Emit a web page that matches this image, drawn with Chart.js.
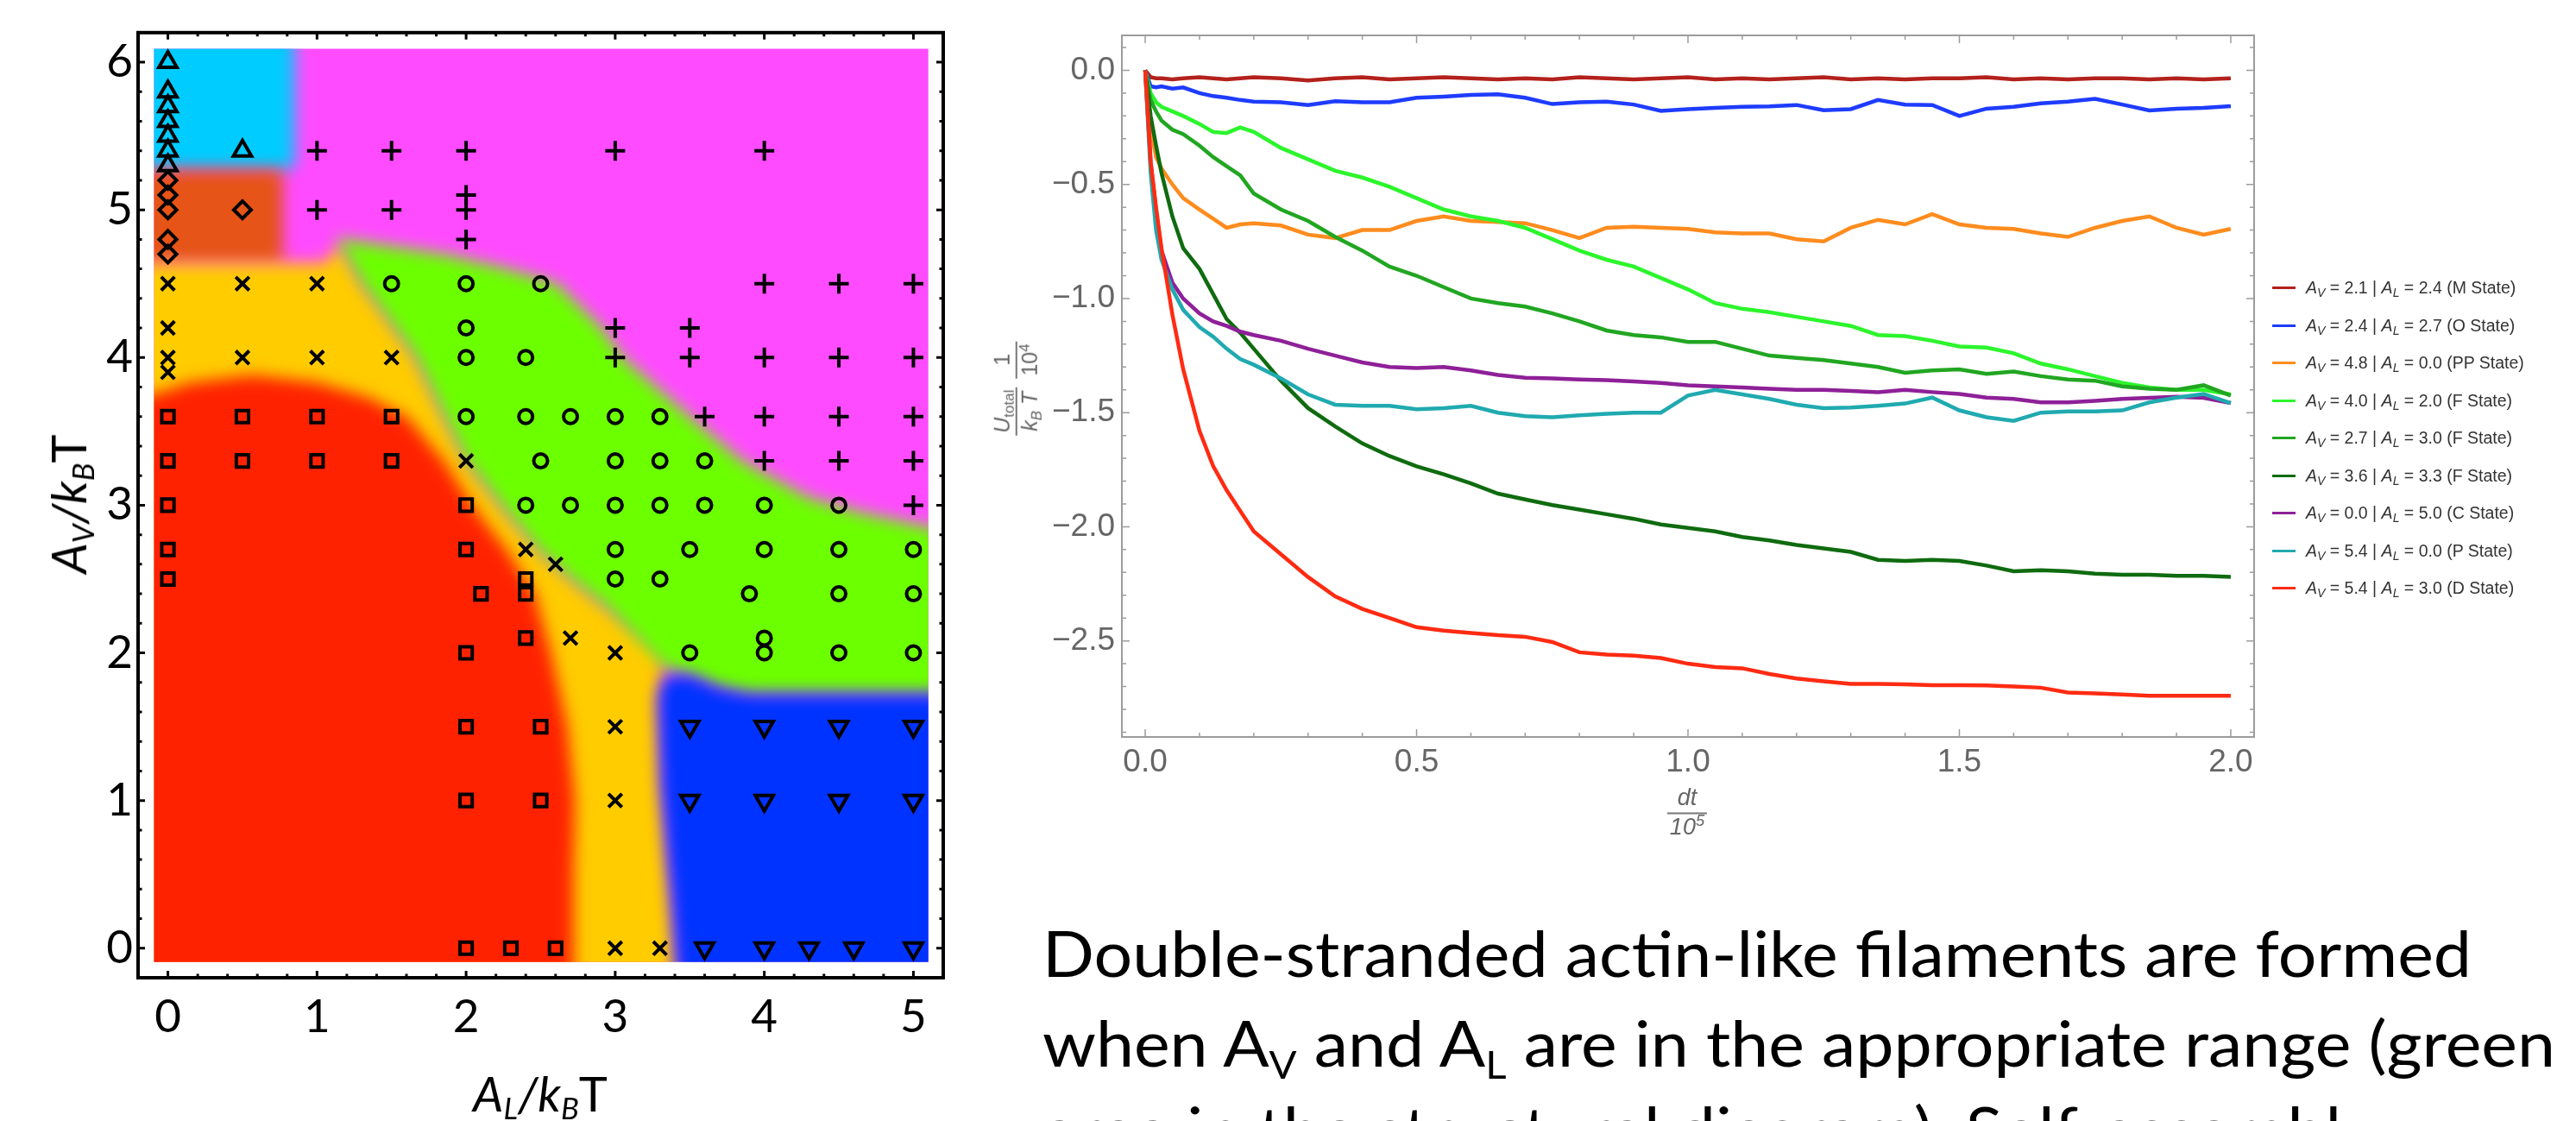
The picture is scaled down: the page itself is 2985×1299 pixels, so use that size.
<!DOCTYPE html>
<html>
<head>
<meta charset="utf-8">
<title>Phase diagram and energy traces</title>
<script src="https://cdn.jsdelivr.net/npm/chart.js@4.4.1/dist/chart.umd.min.js"></script>
<style>
  html, body { margin: 0; padding: 0; background: #fff; }
  body { position: relative; width: 2985px; height: 1299px; overflow: hidden; }
  canvas { position: absolute; top: 0; }
  #phase { left: 0; }
  #energy { left: 1150px; }
  .t { position: absolute; white-space: nowrap; }
  .ax { font-family: Lato, "Open Sans", sans-serif; font-size: 56px; line-height: 1; color: #000; }
  .ax sub { font-size: 0.62em; vertical-align: -0.25em; line-height: 0; }
  .mma { font-family: "Liberation Sans", Arial, sans-serif; line-height: 1.15; color: #666; }
  .mma sub { font-size: 0.68em; vertical-align: -0.3em; line-height: 0; }
  .mma sup { font-size: 0.68em; vertical-align: 0.55em; line-height: 0; }
  .frac { display: inline-block; text-align: center; vertical-align: middle; margin: 0 5px; }
  .frac > span { display: block; padding: 0 3px; }
  .frac > span.num { border-bottom: 2.5px solid #777; padding-bottom: 1px; }
  #legend { position: absolute; left: 2633px; top: 312px; font-family: "Liberation Sans", Arial, sans-serif; font-size: 19.5px; color: #333; }
  #legend .row { height: 43.5px; display: flex; align-items: center; white-space: nowrap; }
  #legend .sw { display: inline-block; width: 27px; height: 3px; margin-right: 12px; }
  #legend sub { font-size: 0.72em; vertical-align: -0.3em; line-height: 0; }
  .pl { position: absolute; left: 1208px; font-family: Lato, "Open Sans", sans-serif; font-size: 74px; line-height: 1; color: #000; white-space: nowrap; transform-origin: 0 0; }
  .pl sub { font-size: 0.6em; vertical-align: -0.32em; line-height: 0; }
</style>
</head>
<body>
<canvas id="phase" width="1150" height="1299"></canvas>
<canvas id="energy" width="1835" height="1299"></canvas>

<div class="t ax" id="phaseYTitle" style="left:79px; top:584px; transform: translate(-50%, -50%) rotate(-90deg);"><i>A</i><sub><i>V</i></sub><i>/k</i><sub><i>B</i></sub>T</div>
<div class="t ax" id="phaseXTitle" style="left:626px; top:1267px; transform: translate(-50%, -50%);"><i>A</i><sub><i>L</i></sub><i>/k</i><sub><i>B</i></sub>T</div>

<div class="t mma" id="energyYTitle" style="left:1177px; top:450px; font-size:25px; transform: translate(-50%, -50%) rotate(-90deg);">
  <span class="frac"><span class="num"><i>U</i><sub>total</sub></span><span><i>k</i><sub><i>B</i></sub> <i>T</i></span></span><span class="frac"><span class="num">1</span><span>10<sup>4</sup></span></span>
</div>
<div class="t mma" id="energyXTitle" style="left:1955px; top:942px; font-size:27px; transform: translate(-50%, -50%);">
  <span class="frac"><span class="num"><i>dt</i></span><span><i>10<sup>5</sup></i></span></span>
</div>

<div id="legend"></div>

<div class="pl" id="pl1" style="top:1067px;">Double-stranded actin-like filaments are formed</div>
<div class="pl" id="pl2" style="top:1171px;">when A<sub>V</sub> and A<sub>L</sub> are in the appropriate range (green</div>
<div class="pl" id="pl3" style="top:1271px;">area in the structural diagram). Self-assembly</div>

<script>
// ---------------- left panel: structural (phase) diagram ----------------
const phaseXTicks = [0, 1, 2, 3, 4, 5];
const phaseYTicks = [0, 1, 2, 3, 4, 5, 6];
const colorBox = { x0: -0.093, x1: 5.1, y0: -0.093, y1: 6.09 };

// simulation points, one list per marker shape: [A_L, A_V]
const triUpPts = [[0, 6.0], [0, 5.8], [0, 5.7], [0, 5.6], [0, 5.5], [0, 5.4], [0, 5.3], [0.5, 5.4]];
const diamondPts = [[0, 5.2], [0, 5.1], [0, 5.0], [0, 4.8], [0, 4.7], [0.5, 5.0]];
const plusPts = [[1, 5.4], [1.5, 5.4], [2, 5.4], [3, 5.4], [4, 5.4], [1, 5.0], [1.5, 5.0], [2, 5.0], [2, 5.1], [2, 4.8],
  [4, 4.5], [4.5, 4.5], [5, 4.5], [3, 4.2], [3.5, 4.2], [3, 4.0], [3.5, 4.0], [4, 4.0], [4.5, 4.0], [5, 4.0],
  [3.6, 3.6], [4, 3.6], [4.5, 3.6], [5, 3.6], [4, 3.3], [4.5, 3.3], [5, 3.3], [5, 3.0]];
const crossPts = [[0, 4.5], [0.5, 4.5], [1, 4.5], [0, 4.2], [0, 4.0], [0.5, 4.0], [1, 4.0], [1.5, 4.0], [0, 3.9],
  [2, 3.3], [2.4, 2.7], [2.6, 2.6], [2.7, 2.1], [3, 2.0], [3, 1.5], [3, 1.0], [3, 0], [3.3, 0]];
const circlePts = [[1.5, 4.5], [2, 4.5], [2.5, 4.5], [2, 4.2], [2, 4.0], [2.4, 4.0],
  [2, 3.6], [2.4, 3.6], [2.7, 3.6], [3, 3.6], [3.3, 3.6], [2.5, 3.3], [3, 3.3], [3.3, 3.3], [3.6, 3.3],
  [2.4, 3.0], [2.7, 3.0], [3, 3.0], [3.3, 3.0], [3.6, 3.0], [4, 3.0], [4.5, 3.0],
  [3, 2.7], [3.5, 2.7], [4, 2.7], [4.5, 2.7], [5, 2.7], [3, 2.5], [3.3, 2.5], [3.9, 2.4], [4.5, 2.4], [5, 2.4],
  [4, 2.1], [3.5, 2.0], [4, 2.0], [4.5, 2.0], [5, 2.0]];
const squarePts = [[0, 3.6], [0.5, 3.6], [1, 3.6], [1.5, 3.6], [0, 3.3], [0.5, 3.3], [1, 3.3], [1.5, 3.3],
  [0, 3.0], [2, 3.0], [0, 2.7], [2, 2.7], [0, 2.5], [2.4, 2.5], [2.1, 2.4], [2.4, 2.4], [2.4, 2.1], [2, 2.0],
  [2, 1.5], [2.5, 1.5], [2, 1.0], [2.5, 1.0], [2, 0], [2.3, 0], [2.6, 0]];
const triDownPts = [[3.5, 1.5], [4, 1.5], [4.5, 1.5], [5, 1.5], [3.5, 1.0], [4, 1.0], [4.5, 1.0], [5, 1.0],
  [3.6, 0], [4, 0], [4.3, 0], [4.6, 0], [5, 0]];

// state regions (outlines)
const regionMagenta = [[-0.5, -0.5], [5.6, -0.5], [5.6, 6.5], [-0.5, 6.5]];
const regionCyan = [[-0.5, 6.5], [0.85, 6.5], [0.85, 5.3], [0.8, 5.27], [-0.5, 5.27]];
const regionBrown = [[-0.5, 5.27], [0.77, 5.27], [0.77, 4.64], [-0.5, 4.64]];
const regionYellow = [[-0.5, 4.64], [1.05, 4.64], [1.15, 4.76], [1.3, 4.5], [1.66, 4.0], [1.85, 3.6], [2.0, 3.3],
  [2.23, 3.0], [2.48, 2.7], [2.7, 2.5], [2.95, 2.3], [3.3, 2.0], [3.33, 1.88], [3.29, 1.7], [3.31, 1.1],
  [3.38, 0.3], [3.44, -0.5], [-0.5, -0.5]];
const regionGreen = [[1.13, 4.81], [1.85, 4.7], [2.27, 4.6], [2.61, 4.5], [2.91, 4.2], [3.05, 4.0], [3.5, 3.6],
  [3.85, 3.3], [4.3, 3.05], [4.65, 2.95], [5.1, 2.85], [5.6, 2.8], [5.6, 1.72], [3.9, 1.72], [3.7, 1.76],
  [3.5, 1.85], [3.33, 1.9], [2.95, 2.3], [2.7, 2.5], [2.48, 2.7], [2.23, 3.0], [2.0, 3.3], [1.85, 3.6],
  [1.66, 4.0], [1.3, 4.5]];
const regionBlue = [[3.44, -0.5], [3.38, 0.3], [3.31, 1.1], [3.29, 1.7], [3.33, 1.84], [3.5, 1.85], [3.7, 1.76],
  [3.9, 1.72], [5.6, 1.72], [5.6, -0.5]];
const regionRed = [[-0.5, -0.5], [2.72, -0.5], [2.72, 0.5], [2.73, 1.0], [2.68, 1.5], [2.57, 2.0], [2.46, 2.4],
  [2.27, 2.7], [2.04, 3.0], [1.85, 3.3], [1.6, 3.6], [1.34, 3.73], [1.0, 3.83], [0.57, 3.88], [0.15, 3.83],
  [-0.09, 3.75], [-0.5, 3.7]];

const markerDefs = [
  { pts: triUpPts, style: 'triangle', r: 12, rot: 0 },
  { pts: diamondPts, style: 'rectRot', r: 10, rot: 0 },
  { pts: plusPts, style: 'cross', r: 11.5, rot: 0 },
  { pts: crossPts, style: 'crossRot', r: 11, rot: 0 },
  { pts: circlePts, style: 'circle', r: 8, rot: 0 },
  { pts: squarePts, style: 'rect', r: 10, rot: 0 },
  { pts: triDownPts, style: 'triangle', r: 12, rot: 180 }
];
// top-most first
const regionDefs = [
  { poly: regionRed, color: '#ff2200' },
  { poly: regionBlue, color: '#0033ff' },
  { poly: regionGreen, color: '#6cff00' },
  { poly: regionYellow, color: '#ffcc00' },
  { poly: regionBrown, color: '#e65417' },
  { poly: regionCyan, color: '#00ccff' },
  { poly: regionMagenta, color: '#ff4bff' }
];

const toXY = pts => pts.map(([x, y]) => ({ x, y }));

const phaseSets = [
  ...markerDefs.map(m => ({
    data: toXY(m.pts),
    showLine: false,
    pointStyle: m.style,
    pointRadius: m.r,
    pointRotation: m.rot,
    pointBorderColor: '#000',
    pointBackgroundColor: 'rgba(0,0,0,0)',
    pointBorderWidth: 4,
    order: 0
  })),
  ...regionDefs.map((rg, i) => ({
    data: toXY(rg.poly),
    fill: 'shape',
    backgroundColor: rg.color,
    borderWidth: 0,
    pointRadius: 0,
    tension: 0,
    order: i + 1
  }))
];

function inwardTicks(ctx, a, scale, vals, len, horizontal) {
  vals.forEach(v => {
    const p = scale.getPixelForValue(v);
    ctx.beginPath();
    if (horizontal) {
      ctx.moveTo(p, a.bottom); ctx.lineTo(p, a.bottom - len);
      ctx.moveTo(p, a.top); ctx.lineTo(p, a.top + len);
    } else {
      ctx.moveTo(a.left, p); ctx.lineTo(a.left + len, p);
      ctx.moveTo(a.right, p); ctx.lineTo(a.right - len, p);
    }
    ctx.stroke();
  });
}

const phaseFrame = {
  id: 'phaseFrame',
  beforeDatasetsDraw(chart) {
    const { ctx, scales: { x, y } } = chart;
    const l = x.getPixelForValue(colorBox.x0), r = x.getPixelForValue(colorBox.x1);
    const t = y.getPixelForValue(colorBox.y1), b = y.getPixelForValue(colorBox.y0);
    ctx.save();
    ctx.beginPath();
    ctx.rect(l, t, r - l, b - t);
    ctx.clip();
    ctx.filter = 'blur(9px)';
    chart.$soft = true;
  },
  beforeDatasetDraw(chart, args) {
    if (chart.$soft && chart.data.datasets[args.index].fill !== 'shape') {
      chart.ctx.restore();
      chart.$soft = false;
    }
  },
  afterDatasetsDraw(chart) {
    if (chart.$soft) { chart.ctx.restore(); chart.$soft = false; }
  },
  afterDraw(chart) {
    const { ctx, chartArea: a, scales: { x, y } } = chart;
    ctx.save();
    ctx.strokeStyle = '#000';
    ctx.lineWidth = 4;
    ctx.strokeRect(a.left, a.top, a.right - a.left, a.bottom - a.top);
    ctx.lineWidth = 3;
    const minorX = [], minorY = [];
    for (let k = 1; k < 26; k++) if (k % 5) minorX.push(k * 0.2);
    for (let k = 1; k < 31; k++) if (k % 5) minorY.push(k * 0.2);
    inwardTicks(ctx, a, x, phaseXTicks, 8, true);
    inwardTicks(ctx, a, x, minorX, 4.5, true);
    inwardTicks(ctx, a, y, phaseYTicks, 8, false);
    inwardTicks(ctx, a, y, minorY, 4.5, false);
    ctx.restore();
  }
};

new Chart(document.getElementById('phase'), {
  type: 'line',
  data: { datasets: phaseSets },
  options: {
    responsive: false,
    animation: false,
    events: [],
    layout: { padding: { top: 30, right: 57, bottom: 0, left: 0 } },
    plugins: { legend: { display: false }, tooltip: { enabled: false }, filler: { propagate: false } },
    scales: {
      x: {
        type: 'linear', min: -0.2, max: 5.2,
        grid: { display: false, drawTicks: false }, border: { display: false },
        ticks: { color: '#000', font: { family: 'Lato', size: 53 }, padding: 14, maxRotation: 0, autoSkip: false },
        afterBuildTicks: s => { s.ticks = phaseXTicks.map(v => ({ value: v })); },
        afterFit: s => { s.height = 166; }
      },
      y: {
        type: 'linear', min: -0.2, max: 6.2,
        grid: { display: false, drawTicks: false }, border: { display: false },
        ticks: { color: '#000', font: { family: 'Lato', size: 53 }, padding: 6, autoSkip: false },
        afterBuildTicks: s => { s.ticks = phaseYTicks.map(v => ({ value: v })); },
        afterFit: s => { s.width = 160; }
      }
    }
  },
  plugins: [phaseFrame]
});

// ---------------- right panel: total energy vs time ----------------
const timeTicks = [0, 0.5, 1, 1.5, 2];
const energyTicks = [0, -0.5, -1, -1.5, -2, -2.5];
const timeGrid = [0, 0.01, 0.02, 0.03, 0.05, 0.07, 0.1, 0.125, 0.15, 0.175, 0.2,
  0.25, 0.3, 0.35, 0.4, 0.45, 0.5, 0.55, 0.6, 0.65, 0.7, 0.75, 0.8, 0.85, 0.9, 0.95, 1.0,
  1.05, 1.1, 1.15, 1.2, 1.25, 1.3, 1.35, 1.4, 1.45, 1.5, 1.55, 1.6, 1.65, 1.7, 1.75, 1.8, 1.85, 1.9, 1.95, 2.0];

const uM = [0, -0.03, -0.035, -0.035, -0.04, -0.035, -0.03, -0.035, -0.04, -0.035, -0.03,
  -0.035, -0.045, -0.035, -0.03, -0.04, -0.035, -0.03, -0.035, -0.04, -0.035, -0.04, -0.03, -0.035, -0.04, -0.035, -0.03,
  -0.04, -0.035, -0.04, -0.035, -0.03, -0.04, -0.035, -0.04, -0.035, -0.035, -0.03, -0.04, -0.035, -0.04, -0.035, -0.035, -0.04, -0.035, -0.04, -0.035];
const uO = [0, -0.07, -0.075, -0.07, -0.08, -0.075, -0.1, -0.113, -0.12, -0.13, -0.137,
  -0.14, -0.152, -0.135, -0.14, -0.14, -0.12, -0.115, -0.108, -0.105, -0.12, -0.148, -0.14, -0.137, -0.15, -0.178, -0.17,
  -0.165, -0.16, -0.158, -0.152, -0.175, -0.17, -0.13, -0.15, -0.152, -0.2, -0.168, -0.16, -0.145, -0.137, -0.125, -0.15, -0.176, -0.168, -0.165, -0.157];
const uPP = [0, -0.25, -0.38, -0.43, -0.5, -0.56, -0.61, -0.65, -0.69, -0.675, -0.67,
  -0.68, -0.72, -0.735, -0.7, -0.7, -0.66, -0.64, -0.66, -0.665, -0.67, -0.7, -0.735, -0.69, -0.685, -0.69, -0.695,
  -0.71, -0.715, -0.715, -0.74, -0.75, -0.69, -0.655, -0.675, -0.63, -0.675, -0.69, -0.695, -0.715, -0.73, -0.69, -0.66, -0.64, -0.69, -0.72, -0.695];
const uF1 = [0, -0.1, -0.14, -0.16, -0.18, -0.2, -0.235, -0.27, -0.275, -0.25, -0.27,
  -0.34, -0.39, -0.44, -0.47, -0.51, -0.56, -0.61, -0.64, -0.66, -0.69, -0.74, -0.79, -0.83, -0.86, -0.91, -0.96,
  -1.02, -1.045, -1.06, -1.08, -1.1, -1.12, -1.16, -1.165, -1.185, -1.21, -1.215, -1.24, -1.285, -1.31, -1.34, -1.37, -1.39, -1.4, -1.4, -1.42];
const uF2 = [0, -0.13, -0.18, -0.22, -0.26, -0.28, -0.33, -0.38, -0.42, -0.46, -0.54,
  -0.61, -0.66, -0.73, -0.79, -0.86, -0.9, -0.95, -1.0, -1.02, -1.035, -1.065, -1.1, -1.14, -1.16, -1.17, -1.19,
  -1.19, -1.22, -1.25, -1.26, -1.27, -1.285, -1.3, -1.325, -1.315, -1.31, -1.33, -1.32, -1.34, -1.355, -1.36, -1.385, -1.395, -1.4, -1.38, -1.425];
const uF3 = [0, -0.2, -0.33, -0.45, -0.64, -0.78, -0.87, -0.98, -1.09, -1.15, -1.22,
  -1.36, -1.48, -1.56, -1.635, -1.69, -1.735, -1.77, -1.81, -1.855, -1.88, -1.905, -1.925, -1.945, -1.965, -1.99, -2.005,
  -2.02, -2.045, -2.06, -2.08, -2.095, -2.11, -2.145, -2.15, -2.145, -2.15, -2.17, -2.195, -2.19, -2.195, -2.205, -2.21, -2.21, -2.215, -2.215, -2.22];
const uC = [0, -0.4, -0.62, -0.79, -0.93, -1.0, -1.065, -1.1, -1.12, -1.145, -1.16,
  -1.185, -1.22, -1.25, -1.28, -1.3, -1.305, -1.3, -1.315, -1.335, -1.347, -1.35, -1.355, -1.358, -1.363, -1.37, -1.38,
  -1.385, -1.39, -1.395, -1.4, -1.4, -1.405, -1.41, -1.4, -1.41, -1.418, -1.434, -1.44, -1.455, -1.455, -1.448, -1.44, -1.435, -1.43, -1.435, -1.458];
const uP = [0, -0.45, -0.7, -0.83, -0.96, -1.05, -1.125, -1.167, -1.22, -1.265, -1.29,
  -1.35, -1.42, -1.465, -1.47, -1.47, -1.485, -1.48, -1.47, -1.5, -1.515, -1.52, -1.512, -1.505, -1.5, -1.5, -1.425,
  -1.4, -1.42, -1.44, -1.465, -1.48, -1.478, -1.47, -1.46, -1.434, -1.49, -1.52, -1.536, -1.5, -1.495, -1.495, -1.49, -1.455, -1.434, -1.418, -1.458];
const uD = [0, -0.4, -0.6, -0.78, -1.07, -1.31, -1.58, -1.733, -1.84, -1.93, -2.02,
  -2.12, -2.22, -2.305, -2.36, -2.4, -2.44, -2.455, -2.465, -2.475, -2.482, -2.505, -2.55, -2.56, -2.565, -2.575, -2.6,
  -2.615, -2.62, -2.645, -2.665, -2.677, -2.688, -2.688, -2.69, -2.694, -2.694, -2.695, -2.7, -2.705, -2.726, -2.73, -2.735, -2.74, -2.74, -2.74, -2.74];

const avVals = [2.1, 2.4, 4.8, 4.0, 2.7, 3.6, 0.0, 5.4, 5.4];
const alVals = [2.4, 2.7, 0.0, 2.0, 3.0, 3.3, 5.0, 0.0, 3.0];
const stateNames = ['M', 'O', 'PP', 'F', 'F', 'F', 'C', 'P', 'D'];
const energyValues = [uM, uO, uPP, uF1, uF2, uF3, uC, uP, uD];
const energyColors = ['#b3211c', '#1e3cff', '#ff8c1e', '#2cf52c', '#21a621', '#0f6b0f', '#8e2098', '#20aab0', '#ff2b12'];

const energyFrame = {
  id: 'energyFrame',
  afterDraw(chart) {
    const { ctx, chartArea: a, scales: { x, y } } = chart;
    ctx.save();
    ctx.strokeStyle = '#9c9c9c';
    ctx.lineWidth = 2;
    ctx.strokeRect(a.left, a.top, a.right - a.left, a.bottom - a.top);
    ctx.lineWidth = 1.5;
    const minorX = [], minorY = [];
    for (let k = 1; k < 20; k++) if (k % 5) minorX.push(k / 10);
    for (let k = -29; k <= 1; k++) if (k % 5) minorY.push(k / 10);
    inwardTicks(ctx, a, x, timeTicks, 9, true);
    inwardTicks(ctx, a, x, minorX, 5, true);
    inwardTicks(ctx, a, y, energyTicks, 9, false);
    inwardTicks(ctx, a, y, minorY, 5, false);
    ctx.restore();
  }
};

const energyChart = new Chart(document.getElementById('energy'), {
  type: 'line',
  data: {
    datasets: energyValues.map((vals, i) => ({
      label: `A_V = ${avVals[i].toFixed(1)} | A_L = ${alVals[i].toFixed(1)} (${stateNames[i]} State)`,
      data: timeGrid.map((t, k) => ({ x: t, y: vals[k] })),
      borderColor: energyColors[i],
      borderWidth: 4.5,
      pointRadius: 0,
      tension: 0,
      fill: false,
      order: energyValues.length - i
    }))
  },
  options: {
    responsive: false,
    animation: false,
    events: [],
    layout: { padding: { top: 41, right: 373, bottom: 0, left: 0 } },
    plugins: { legend: { display: false }, tooltip: { enabled: false } },
    scales: {
      x: {
        type: 'linear', min: -0.043, max: 2.043,
        grid: { display: false, drawTicks: false }, border: { display: false },
        ticks: { color: '#666', font: { family: 'Liberation Sans', size: 37 }, padding: 8, maxRotation: 0, autoSkip: false,
                 callback: v => v.toFixed(1) },
        afterBuildTicks: s => { s.ticks = timeTicks.map(v => ({ value: v })); },
        afterFit: s => { s.height = 445; }
      },
      y: {
        type: 'linear', min: -2.921, max: 0.153,
        grid: { display: false, drawTicks: false }, border: { display: false },
        ticks: { color: '#666', font: { family: 'Liberation Sans', size: 37 }, padding: 8, autoSkip: false,
                 callback: v => v.toFixed(1).replace('-', '\u2212') },
        afterBuildTicks: s => { s.ticks = energyTicks.map(v => ({ value: v })); },
        afterFit: s => { s.width = 150; }
      }
    }
  },
  plugins: [energyFrame]
});

// html legend (needs subscripts)
const legendBox = document.getElementById('legend');
energyChart.data.datasets.forEach((ds, i) => {
  const row = document.createElement('div');
  row.className = 'row';
  row.innerHTML = `<span class="sw" style="background:${ds.borderColor}"></span>` +
    `<span><i>A</i><sub><i>V</i></sub> = ${avVals[i].toFixed(1)} | <i>A</i><sub><i>L</i></sub> = ${alVals[i].toFixed(1)} (${stateNames[i]} State)</span>`;
  legendBox.appendChild(row);
});

// narrow the caption to the slide's width
function fitCaption() {
  const w = document.getElementById('pl1').getBoundingClientRect().width;
  if (!w) return;
  const k = 1656 / (w / (window.__capK || 1));
  window.__capK = k;
  document.querySelectorAll('.pl').forEach(e => { e.style.transform = `scaleX(${k})`; });
}
fitCaption();
if (document.fonts) document.fonts.ready.then(fitCaption);
</script>
</body>
</html>
